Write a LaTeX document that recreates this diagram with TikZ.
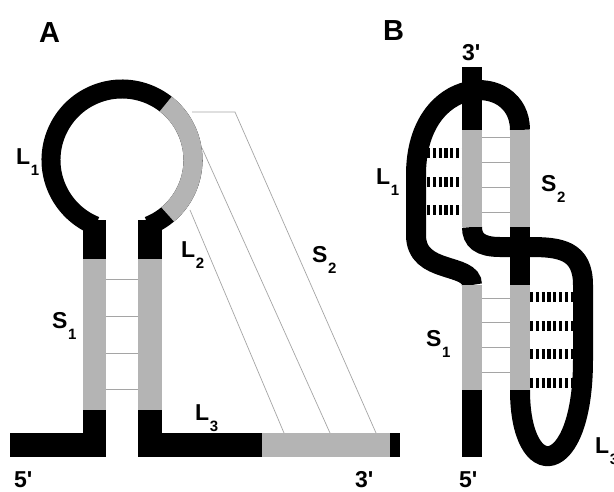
\documentclass[tikz,border=0pt]{standalone}
\usepackage{fontspec}
\setmainfont{Liberation Sans}
\newfontfamily\titlefont{Liberation Sans}
\definecolor{lg}{RGB}{180,180,180}
\definecolor{thinc}{RGB}{165,165,165}
\newcommand\lab[2]{#1\hspace{0.6pt}\raisebox{-11pt}{\fontsize{15}{15}\selectfont #2}}
\newcommand\prm{\textquotesingle}
\begin{document}
\begin{tikzpicture}[x=1pt,y=1pt,
  blk/.style={fill=black},
  gry/.style={fill=lg},
  pair/.style={draw=thinc, line width=0.7pt},
  tubeA/.style={line width=19pt},
  tubeB/.style={line width=20pt, draw=black},
  bars/.style={line width=10pt, dash pattern=on 3.2pt off 2.6pt},
  lbl/.style={anchor=base west, inner sep=0pt, font=\bfseries\fontsize{23}{23}\selectfont},
  ttl/.style={anchor=base west, inner sep=0pt, font=\titlefont\bfseries\fontsize{29}{29}\selectfont}]
\useasboundingbox (0,0) rectangle (614,-491);
\fill[white] (0,0) rectangle (614,-491);

% ---------------- Panel A ----------------
\coordinate (a1) at (192,-112); \coordinate (a1k) at (235,-112); \coordinate (a1e) at (376,-433);
\coordinate (a2) at (202,-148); \coordinate (a2e) at (330,-433);
\coordinate (a3) at (190,-210); \coordinate (a3e) at (284,-433);
\draw[pair] (a1) -- (a1k) -- (a1e);
\draw[pair] (a2) -- (a2e);
\draw[pair] (a3) -- (a3e);

% stem base-pair lines
\foreach \y in {279,316,353,389} \draw[pair] (106,-\y) -- (138,-\y);

% stems
\fill[blk] (83,-220) rectangle (106,-259);
\fill[gry] (83,-259) rectangle (106,-410);
\fill[blk] (83,-410) rectangle (106,-457);
\fill[blk] (10,-433) rectangle (106,-457);
\fill[blk] (138,-220) rectangle (162,-259);
\fill[gry] (138,-259) rectangle (162,-410);
\fill[blk] (138,-410) rectangle (162,-457);
\fill[blk] (138,-433) rectangle (262,-457);
\fill[gry] (262,-433) rectangle (390,-457);
\fill[blk] (390,-433) rectangle (400,-457);

% loop ring
\coordinate (ac) at (122,-160);
\draw[tubeA, black] ([shift={(-68:71pt)}]ac) arc[start angle=-68, end angle=248, radius=71pt];
\draw[tubeA, lg] ([shift={(-50:71pt)}]ac) arc[start angle=-50, end angle=52, radius=71pt];

% labels A
\node[ttl] (tA) at (39,-42) {A};
\node[lbl] (aL1) at (16,-164) {\lab{L}{1}};
\node[lbl] (aL2) at (181,-257) {\lab{L}{2}};
\node[lbl] (aS2) at (312,-262) {\lab{S}{2}};
\node[lbl] (aS1) at (52,-328) {\lab{S}{1}};
\node[lbl] (aL3) at (195,-420) {\lab{L}{3}};
\node[lbl] (a5) at (14,-487) {5\prm};
\node[lbl] (a3p) at (355,-487) {3\prm};

% ---------------- Panel B ----------------
% pairing bars
\foreach \y in {153,182,210} \draw[bars] (427,-\y) -- (462,-\y);
\foreach \y in {297,326,354,383} \draw[bars] (530,-\y) -- (573,-\y);

% base-pair lines between columns
\foreach \y in {137,162,187,212,298,322,347,372} \draw[pair] (482,-\y) -- (510,-\y);

% L1 tube
\draw[tubeB] (472,-285) .. controls (472,-262) and (416,-275) .. (416,-235)
  -- (416,-175) .. controls (416,-72) and (520,-70) .. (520,-130);
% L3 tube
\draw[tubeB] (520,-390) .. controls (520,-485) and (583,-480) .. (583,-360)
  -- (583,-285) .. controls (583,-250) and (560,-247) .. (530,-247)
  -- (500,-247) .. controls (480,-247) and (472,-240) .. (472,-227);
% L2
\fill[blk] (510,-227) rectangle (530,-285);

% columns
\fill[blk] (462,-67) rectangle (482,-130);
\fill[gry] (462,-130) rectangle (482,-227);
\fill[gry] (510,-130) rectangle (530,-227);
\fill[gry] (462,-285) rectangle (482,-390);
\fill[gry] (510,-285) rectangle (530,-390);
\fill[blk] (462,-390) rectangle (482,-457);

% labels B
\node[ttl] (tB) at (383,-40) {B};
\node[lbl] (b3p) at (462,-60) {3\prm};
\node[lbl] (bL1) at (376,-184) {\lab{L}{1}};
\node[lbl] (bS2) at (541,-191) {\lab{S}{2}};
\node[lbl] (bS1) at (426,-346) {\lab{S}{1}};
\node[lbl] (bL3) at (595,-453) {\lab{L}{3}};
\node[lbl] (b5) at (459,-487) {5\prm};
\end{tikzpicture}
\end{document}
